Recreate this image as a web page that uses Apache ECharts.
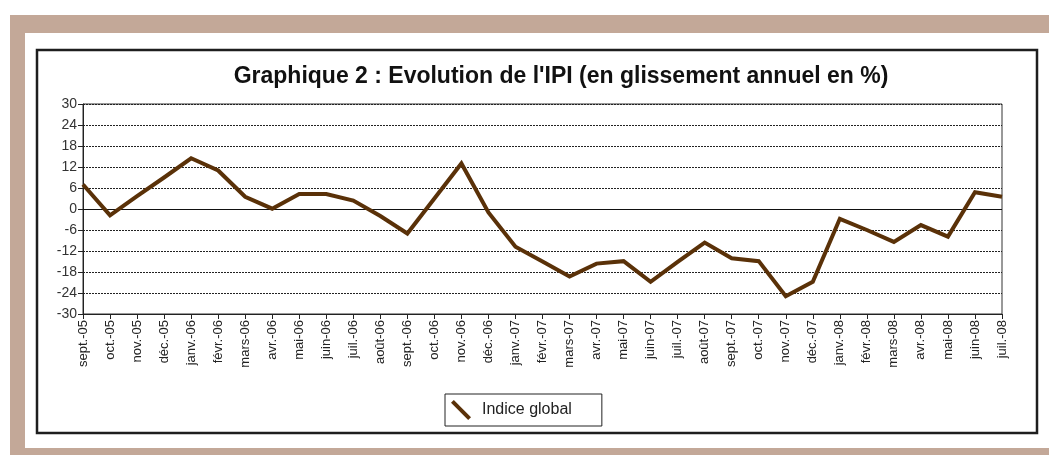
<!DOCTYPE html>
<html>
<head>
<meta charset="utf-8">
<title>Evolution de l'IPI</title>
<script src="https://cdn.jsdelivr.net/npm/echarts@6/dist/echarts.min.js"></script>
<style>
  html, body { margin: 0; padding: 0; background: #fff; }
  #ipiChart { width: 1049px; height: 455px; }
</style>
</head>
<body>
<div id="ipiChart"></div>
<script>
// mois (axe des x)
const months = [
  'sept.-05', 'oct.-05', 'nov.-05', 'déc.-05',
  'janv.-06', 'févr.-06', 'mars-06', 'avr.-06', 'mai-06', 'juin-06',
  'juil.-06', 'août-06', 'sept.-06', 'oct.-06', 'nov.-06', 'déc.-06',
  'janv.-07', 'févr.-07', 'mars-07', 'avr.-07', 'mai-07', 'juin-07',
  'juil.-07', 'août-07', 'sept.-07', 'oct.-07', 'nov.-07', 'déc.-07',
  'janv.-08', 'févr.-08', 'mars-08', 'avr.-08', 'mai-08', 'juin-08', 'juil.-08'
]
// glissement annuel en %
const indiceGlobal = [
  7, -1.8, 3.7, 9,
  14.5, 11, 3.5, 0.1, 4.3, 4.3,
  2.4, -2, -7, 3, 13, -1,
  -10.8, -15, -19.3, -15.6, -14.9, -20.8,
  -15.1, -9.6, -14.1, -14.9, -24.9, -20.8,
  -2.8, -6, -9.4, -4.6, -7.9, 4.8, 3.5
]
const yMin = -30
const yMax = 30
const yStep = 6

const frameColor = '#c3a898'
const lineColor = '#5a3108'
const fontFamily = '"Liberation Sans", Arial, sans-serif'

let myChart = echarts.init(document.getElementById('ipiChart'))
let option = {
  backgroundColor: '#fff',
  animation: false,
  graphic: [
    // cadre beige
    { type: 'rect', shape: { x: 10, y: 15, width: 1039, height: 18 }, style: { fill: frameColor }, silent: true },
    { type: 'rect', shape: { x: 10, y: 15, width: 15, height: 440 }, style: { fill: frameColor }, silent: true },
    { type: 'rect', shape: { x: 10, y: 448, width: 1039, height: 7 }, style: { fill: frameColor }, silent: true },
    // bordure noire du graphique
    { type: 'rect', shape: { x: 37, y: 50, width: 1000, height: 383 }, style: { fill: 'none', stroke: '#1e1e1e', lineWidth: 2.5 }, silent: true }
  ],
  title: {
    text: "Graphique 2 : Evolution de l'IPI (en glissement annuel en %)",
    left: 556,
    top: 60,
    textAlign: 'center',
    textStyle: {
      fontFamily: fontFamily,
      fontSize: 23,
      fontWeight: 'bold',
      color: '#111'
    }
  },
  legend: {
    data: ['Indice global'],
    left: 445,
    top: 394,
    padding: [6, 30, 6, 6],
    borderColor: '#222',
    borderWidth: 1,
    itemWidth: 20,
    itemHeight: 20,
    itemGap: 4,
    icon: 'path://M0,2.8 L2.8,0 L20,17.2 L17.2,20 Z',
    textStyle: {
      fontFamily: fontFamily,
      fontSize: 16,
      color: '#222',
      padding: [0, 0, 0, 6]
    }
  },
  grid: {
    left: 83,
    right: 47,
    top: 104,
    bottom: 141,
    show: true,
    borderColor: '#333',
    borderWidth: 1
  },
  xAxis: {
    type: 'category',
    boundaryGap: false,
    data: months,
    axisLine: { onZero: false, lineStyle: { color: '#222', width: 1 } },
    axisTick: { show: true, alignWithLabel: true, length: 5, lineStyle: { color: '#222' } },
    axisLabel: {
      interval: 0,
      rotate: 90,
      margin: 6,
      fontFamily: fontFamily,
      fontSize: 13,
      color: '#222'
    },
    splitLine: { show: false }
  },
  yAxis: {
    type: 'value',
    min: yMin,
    max: yMax,
    interval: yStep,
    axisLine: { show: true, lineStyle: { color: '#222', width: 1 } },
    axisTick: { show: true, length: 5, lineStyle: { color: '#222' } },
    axisLabel: {
      margin: 6,
      fontFamily: fontFamily,
      fontSize: 14,
      color: '#333'
    },
    splitLine: {
      show: true,
      lineStyle: { color: '#222', type: [2, 1], width: 1 }
    }
  },
  series: [
    {
      name: 'Indice global',
      type: 'line',
      data: indiceGlobal,
      symbol: 'none',
      color: lineColor,
      lineStyle: { color: lineColor, width: 4, join: 'miter' },
      markLine: {
        silent: true,
        symbol: 'none',
        label: { show: false },
        lineStyle: { color: '#111', type: 'solid', width: 1 },
        data: [{ yAxis: 0 }]
      },
      z: 5
    }
  ]
}
myChart.setOption(option)
</script>
</body>
</html>
